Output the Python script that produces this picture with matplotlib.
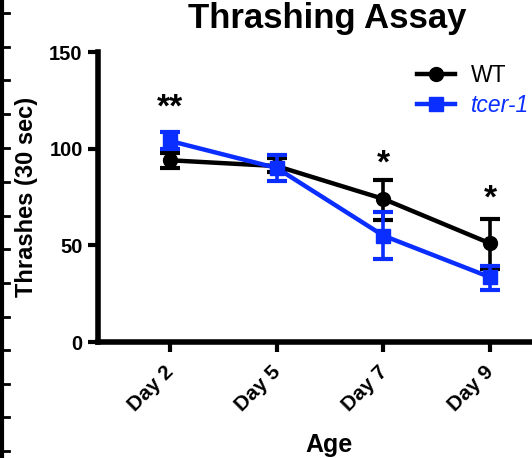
import matplotlib
matplotlib.use("Agg")
import matplotlib.pyplot as plt
import matplotlib.transforms as mtransforms
from matplotlib.lines import Line2D

plt.rcParams['font.family'] = ['Liberation Sans', 'DejaVu Sans']

days = ["Day 2", "Day 5", "Day 7", "Day 9"]
wt_mean = [94, 91, 74, 51]
wt_err_lo = [4, 3, 11, 13]
wt_err_hi = [4, 4, 10, 12.5]
tc_mean = [104, 90, 55, 33.5]
tc_err_lo = [4, 6.5, 12, 6.5]
tc_err_hi = [4.5, 6.5, 12, 6]
stars = ["**", "", "*", "*"]
star_y = [121, 0, 92, 74]

BLUE = '#0a2eff'
fig = plt.figure(figsize=(5.32, 4.58), dpi=100)
W, H = 532, 458
left, right, bottom, top = 98, 560, 116, 406  # in pixels (bottom from bottom edge)
ax = fig.add_axes([left / W, bottom / H, (right - left) / W, (top - bottom) / H])

x = list(range(1, len(days) + 1))
ax.errorbar(x, wt_mean, yerr=[wt_err_lo, wt_err_hi], color='black', lw=3.2,
            marker='o', ms=10, capsize=7, capthick=3, elinewidth=2.6, zorder=3)
ax.errorbar(x, tc_mean, yerr=[tc_err_lo, tc_err_hi], color=BLUE, lw=3.2,
            marker='s', ms=10.5, capsize=7, capthick=3, elinewidth=2.6, zorder=4)

for xi, s, sy in zip(x, stars, star_y):
    if s:
        ax.text(xi, sy, s, ha='center', va='center', fontsize=24, fontweight='bold')

ax.set_xlim(0.325, 0.325 + (right - left) / 106.7)
ax.set_ylim(0, 150)
ax.set_yticks([0, 50, 100, 150])
ax.set_xticks(x)
ax.set_xticklabels(days, rotation=45, ha='right', rotation_mode='anchor')
for sp in ['top', 'right']:
    ax.spines[sp].set_visible(False)
for sp in ['left', 'bottom']:
    ax.spines[sp].set_linewidth(4)
ax.tick_params(width=3, length=7, labelsize=14.5, pad=4)
ax.tick_params(axis='x', labelsize=15, pad=5)
offset = mtransforms.ScaledTranslation(-6 / 100, -4 / 100, fig.dpi_scale_trans)
for lab in ax.get_xticklabels():
    lab.set_fontweight('bold')
    lab.set_transform(lab.get_transform() + offset)
for lab in ax.get_yticklabels():
    lab.set_fontweight('bold')
ax.set_ylabel("Thrashes (30 sec)", fontsize=17, fontweight='bold', labelpad=8)
ax.set_xlabel("Age", fontsize=18, fontweight='bold', labelpad=13)
fig.text(327 / W, 1 - 28 / H, "Thrashing Assay", ha='center', va='baseline',
         fontsize=25, fontweight='bold')

handles = [Line2D([], [], color='black', lw=3.2, marker='o', ms=10),
           Line2D([], [], color=BLUE, lw=3.2, marker='s', ms=10.5)]
leg = ax.legend(handles, ['WT', 'tcer-1'], loc='upper left',
                bbox_to_anchor=((417 - left) / (right - left), 1.0 - 12 / (top - bottom)),
                frameon=False, fontsize=16.5, handlelength=1.65, handletextpad=0.7,
                borderaxespad=0, borderpad=0, labelspacing=0.3)
texts = leg.get_texts()
texts[1].set_color(BLUE)
texts[1].set_fontstyle('italic')

# fragment of neighbouring panel axis at the left edge
fig.add_artist(Line2D([1.5 / W, 1.5 / W], [0, 1], transform=fig.transFigure, color='black', lw=3))
for ty in [13, 47, 80, 114, 148, 182, 216, 249, 283, 317, 350, 384, 417, 451]:
    fig.add_artist(Line2D([0, 9 / W], [1 - ty / H, 1 - ty / H], transform=fig.transFigure,
                          color='black', lw=2))

fig.savefig("out.png", dpi=100)
